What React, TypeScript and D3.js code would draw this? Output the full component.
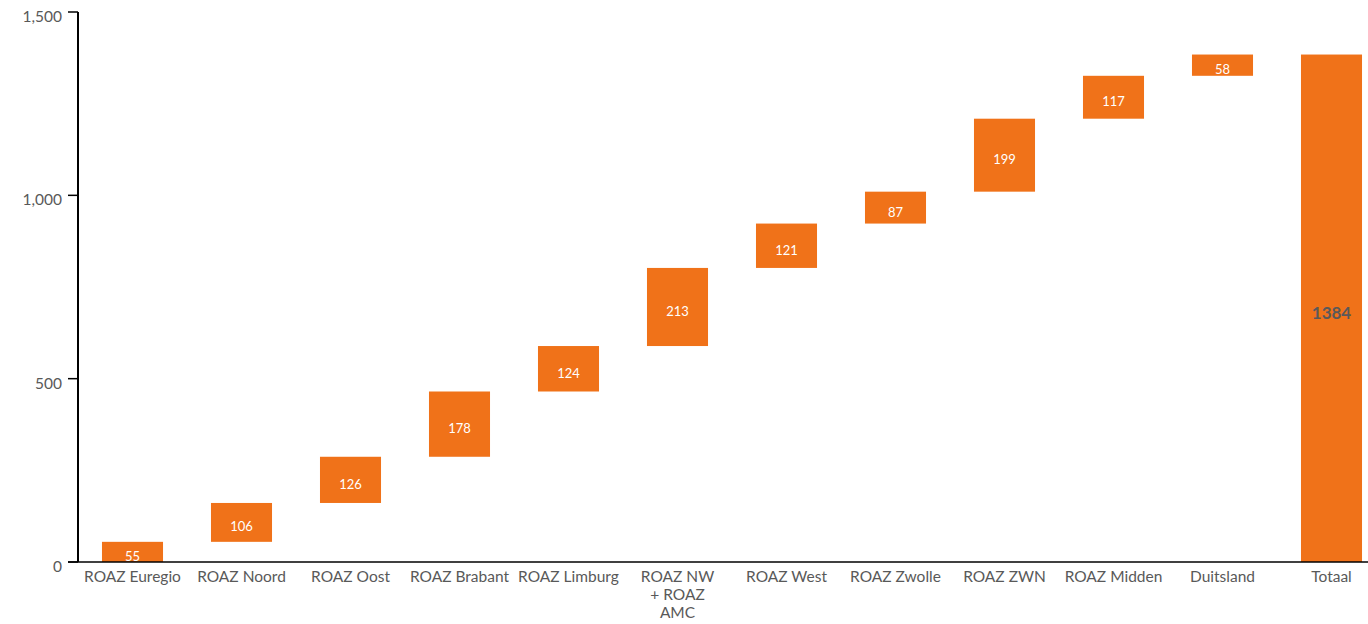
import React from "react";
import * as d3 from "d3";

const categories = [
  "ROAZ Euregio",
  "ROAZ Noord",
  "ROAZ Oost",
  "ROAZ Brabant",
  "ROAZ Limburg",
  "ROAZ NW + ROAZ AMC",
  "ROAZ West",
  "ROAZ Zwolle",
  "ROAZ ZWN",
  "ROAZ Midden",
  "Duitsland",
  "Totaal",
];
const values = [55, 106, 126, 178, 124, 213, 121, 87, 199, 117, 58];
const totalValue = 1384;
const yTicks = [0, 500, 1000, 1500];

const W = 1368;
const H = 624;
const margin = { left: 78, top: 12, bottom: 62 };
const plotBottom = H - margin.bottom;
const ORANGE = "#F07219";
const GRAY = "#595959";
const FONT = "Lato, 'Open Sans', sans-serif";

function wrapLabel(label: string): string[] {
  if (label === "ROAZ NW + ROAZ AMC") return ["ROAZ NW", "+ ROAZ", "AMC"];
  return [label];
}

export default function App() {
  const x = d3
    .scaleBand<string>()
    .domain(categories)
    .range([margin.left, margin.left + 12 * 109])
    .paddingInner(0.44)
    .paddingOuter(0.22);
  const y = d3.scaleLinear().domain([0, 1500]).range([plotBottom, margin.top]);

  let cum = 0;
  const bars = values.map((v, i) => {
    const start = cum;
    cum += v;
    return { cat: categories[i], start, end: cum, v, total: false };
  });
  bars.push({ cat: categories[11], start: 0, end: totalValue, v: totalValue, total: true });

  const fmt = d3.format(",");

  return (
    <svg width={W} height={H} style={{ display: "block", position: "absolute", left: 0, top: 0 }}>
      <defs>
        <clipPath id="plotclip">
          <rect x={margin.left} y={0} width={W - margin.left} height={plotBottom} />
        </clipPath>
      </defs>
      <g clipPath="url(#plotclip)">
        {bars.map((b) => {
          const x0 = x(b.cat)!;
          const y0 = y(b.end);
          const y1 = y(b.start);
          const mid = (y0 + y1) / 2;
          return (
            <g key={b.cat}>
              <rect x={x0} y={y0} width={x.bandwidth()} height={y1 - y0} fill={ORANGE} />
              <text
                x={x0 + x.bandwidth() / 2}
                y={mid + 4}
                textAnchor="middle"
                dominantBaseline="central"
                fontFamily={FONT}
                fontSize={b.total ? 17 : 13}
                fontWeight={b.total ? 700 : 400}
                fill={b.total ? GRAY : "#ffffff"}
              >
                {b.v}
              </text>
            </g>
          );
        })}
      </g>
      {/* y axis */}
      <line x1={margin.left} x2={margin.left} y1={margin.top} y2={plotBottom} stroke="#000" strokeWidth={2} />
      {yTicks.map((t) => (
        <g key={t}>
          <line x1={margin.left - 10} x2={margin.left} y1={y(t)} y2={y(t)} stroke="#000" strokeWidth={1.5} />
          <text
            x={margin.left - 16}
            y={y(t) + 4}
            textAnchor="end"
            dominantBaseline="central"
            fontFamily={FONT}
            fontSize={15.5}
            fill={GRAY}
          >
            {fmt(t)}
          </text>
        </g>
      ))}
      {/* x axis */}
      <line x1={margin.left - 10} x2={W} y1={plotBottom} y2={plotBottom} stroke="#000" strokeWidth={1.5} />
      {categories.map((c) => {
        const cx = x(c)! + x.bandwidth() / 2;
        return (
          <text key={c} textAnchor="middle" fontFamily={FONT} fontSize={15.5} fill={GRAY}>
            {wrapLabel(c).map((line, i) => (
              <tspan key={i} x={cx} y={plotBottom + 20 + i * 18}>
                {line}
              </tspan>
            ))}
          </text>
        );
      })}
    </svg>
  );
}
